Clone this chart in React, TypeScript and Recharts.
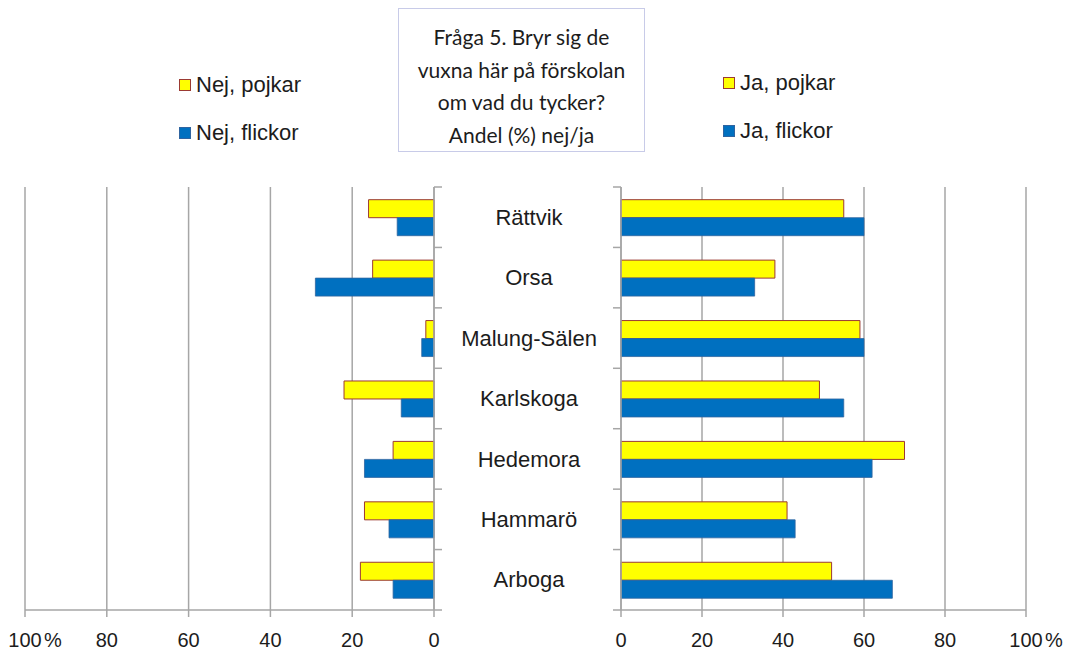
import React from 'react';
import { BarChart, Bar, XAxis, YAxis, CartesianGrid } from 'recharts';

const categories = ['Rättvik', 'Orsa', 'Malung-Sälen', 'Karlskoga', 'Hedemora', 'Hammarö', 'Arboga'];
const nejPojkar = [16, 15, 2, 22, 10, 17, 18];
const nejFlickor = [9, 29, 3, 8, 17, 11, 10];
const jaPojkar = [55, 38, 59, 49, 70, 41, 52];
const jaFlickor = [60, 33, 60, 55, 62, 43, 67];
const xTicks = [0, 20, 40, 60, 80, 100];

const leftData = categories.map((name, i) => ({ name, pojkar: nejPojkar[i], flickor: nejFlickor[i] }));
const rightData = categories.map((name, i) => ({ name, pojkar: jaPojkar[i], flickor: jaFlickor[i] }));

const YELLOW = '#FFFF00';
const YELLOW_STROKE = '#9b3a33';
const BLUE = '#0070C0';
const BLUE_STROKE = '#2f64a0';
const GRID = '#a6a6a6';
const TEXT = '#1c1c1c';
const FONT = '"Liberation Sans", Arial, sans-serif';

const CHART_H = 480;
const MARGIN = { top: 10, bottom: 7 };
const X_AXIS_H = 40;
const PLOT_H = CHART_H - MARGIN.top - MARGIN.bottom - X_AXIS_H;
const BAND = PLOT_H / categories.length;
const TICK_LEN = 8;

const XTick = (props: any) => {
  const { x, y, payload } = props;
  return (
    <g>
      <text x={x} y={y} dy="0.71em" textAnchor="middle" fontSize={20} fontFamily={FONT} fill={TEXT}>
        {payload.value}
      </text>
      {payload.value === 100 && (
        <text x={x + 19} y={y} dy="0.71em" textAnchor="start" fontSize={20} fontFamily={FONT} fill={TEXT}>
          %
        </text>
      )}
    </g>
  );
};

// boundary tick marks (between categories), drawn from the category axis ticks
const boundaryLines = (x0: number, x1: number, y: number, index: number) => (
  <>
    <line x1={x0} x2={x1} y1={y - BAND / 2} y2={y - BAND / 2} stroke={GRID} strokeWidth={1.5} />
    {index === categories.length - 1 && (
      <line x1={x0} x2={x1} y1={y + BAND / 2} y2={y + BAND / 2} stroke={GRID} strokeWidth={1.5} />
    )}
  </>
);

const LeftCatTick = (props: any) => {
  const { x, y, index } = props;
  return <g>{boundaryLines(x - TICK_LEN, x, y, index)}</g>;
};

const RightCatTick = (props: any) => {
  const { x, y, payload, index } = props;
  return (
    <g>
      {boundaryLines(x, x + TICK_LEN, y, index)}
      <text x={x - 84} y={y} dy="0.35em" textAnchor="middle" fontSize={22} fontFamily={FONT} fill={TEXT}>
        {payload.value}
      </text>
    </g>
  );
};

const LegendItem = ({ left, top, fill, stroke, label }: any) => (
  <div style={{ position: 'absolute', left, top, height: 24, display: 'flex', alignItems: 'center' }}>
    <div style={{ width: 10, height: 10, background: fill, border: `1.5px solid ${stroke}`, marginRight: 5 }} />
    <span style={{ fontFamily: FONT, fontSize: 22, color: TEXT, whiteSpace: 'nowrap' }}>{label}</span>
  </div>
);

export default function App() {
  return (
    <div style={{ position: 'absolute', left: 0, top: 0, width: 1071, height: 659, background: '#fff' }}>
      <div
        style={{
          position: 'absolute',
          left: 398,
          top: 8,
          width: 247,
          height: 144,
          boxSizing: 'border-box',
          border: '1.5px solid #c8cbe8',
          textAlign: 'center',
          fontFamily: 'Lato, "Open Sans", sans-serif',
          fontSize: 21,
          lineHeight: '32.5px',
          color: TEXT,
          paddingTop: 12,
        }}
      >
        Fråga 5. Bryr sig de
        <br />
        vuxna här på förskolan
        <br />
        om vad du tycker?
        <br />
        Andel (%) nej/ja
      </div>

      <LegendItem left={179} top={73} fill={YELLOW} stroke={YELLOW_STROKE} label="Nej, pojkar" />
      <LegendItem left={179} top={121} fill={BLUE} stroke={BLUE_STROKE} label="Nej, flickor" />
      <LegendItem left={723} top={71} fill={YELLOW} stroke={YELLOW_STROKE} label="Ja, pojkar" />
      <LegendItem left={723} top={119} fill={BLUE} stroke={BLUE_STROKE} label="Ja, flickor" />

      <div style={{ position: 'absolute', left: 0, top: 177 }}>
        <BarChart
          width={450}
          height={CHART_H}
          data={leftData}
          layout="vertical"
          margin={{ top: MARGIN.top, right: 6, left: 25, bottom: MARGIN.bottom }}
          barCategoryGap="21%"
          barGap={0}
        >
          <CartesianGrid horizontal={false} stroke={GRID} strokeWidth={1.5} />
          <XAxis
            type="number"
            domain={[0, 100]}
            ticks={xTicks}
            reversed
            height={X_AXIS_H}
            tickSize={7}
            tickMargin={16}
            tick={<XTick />}
            axisLine={{ stroke: GRID, strokeWidth: 1.5 }}
            tickLine={{ stroke: GRID, strokeWidth: 1.5 }}
          />
          <YAxis
            type="category"
            dataKey="name"
            orientation="right"
            width={10}
            tickSize={TICK_LEN}
            tickMargin={0}
            tickLine={false}
            axisLine={{ stroke: GRID, strokeWidth: 1.5 }}
            tick={<LeftCatTick />}
          />
          <Bar dataKey="pojkar" fill={YELLOW} stroke={YELLOW_STROKE} strokeWidth={1} isAnimationActive={false} />
          <Bar dataKey="flickor" fill={BLUE} stroke={BLUE_STROKE} strokeWidth={0.8} isAnimationActive={false} />
        </BarChart>
      </div>

      <div style={{ position: 'absolute', left: 440, top: 177 }}>
        <BarChart
          width={631}
          height={CHART_H}
          data={rightData}
          layout="vertical"
          margin={{ top: MARGIN.top, right: 45, left: 0, bottom: MARGIN.bottom }}
          barCategoryGap="21%"
          barGap={0}
        >
          <CartesianGrid horizontal={false} stroke={GRID} strokeWidth={1.5} />
          <XAxis
            type="number"
            domain={[0, 100]}
            ticks={xTicks}
            height={X_AXIS_H}
            tickSize={7}
            tickMargin={16}
            tick={<XTick />}
            axisLine={{ stroke: GRID, strokeWidth: 1.5 }}
            tickLine={{ stroke: GRID, strokeWidth: 1.5 }}
          />
          <YAxis
            type="category"
            dataKey="name"
            orientation="left"
            width={181}
            tickSize={TICK_LEN}
            tickMargin={0}
            tickLine={false}
            axisLine={{ stroke: GRID, strokeWidth: 1.5 }}
            tick={<RightCatTick />}
          />
          <Bar dataKey="pojkar" fill={YELLOW} stroke={YELLOW_STROKE} strokeWidth={1} isAnimationActive={false} />
          <Bar dataKey="flickor" fill={BLUE} stroke={BLUE_STROKE} strokeWidth={0.8} isAnimationActive={false} />
        </BarChart>
      </div>
    </div>
  );
}
